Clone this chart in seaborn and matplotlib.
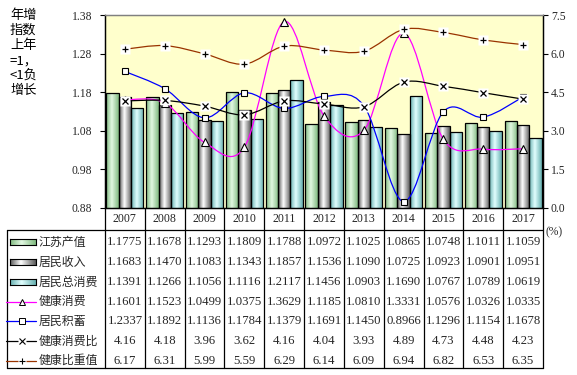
import numpy as np
import pandas as pd
import matplotlib
matplotlib.use("Agg")
import matplotlib.pyplot as plt
import seaborn as sns
from matplotlib.path import Path
from matplotlib.patches import PathPatch
from matplotlib.lines import Line2D
from matplotlib.colors import LinearSegmentedColormap
from matplotlib.transforms import blended_transform_factory

# 数据
years = ["2007", "2008", "2009", "2010", "2011", "2012", "2013", "2014", "2015", "2016", "2017"]
jiangsu_output = [1.1775, 1.1678, 1.1293, 1.1809, 1.1788, 1.0972, 1.1025, 1.0865, 1.0748, 1.1011, 1.1059]
resident_income = [1.1683, 1.1470, 1.1083, 1.1343, 1.1857, 1.1536, 1.1090, 1.0725, 1.0923, 1.0901, 1.0951]
resident_consumption = [1.1391, 1.1266, 1.1056, 1.1116, 1.2117, 1.1456, 1.0903, 1.1690, 1.0767, 1.0789, 1.0619]
health_consumption = [1.1601, 1.1523, 1.0499, 1.0375, 1.3629, 1.1185, 1.0810, 1.3331, 1.0576, 1.0326, 1.0335]
resident_savings = [1.2337, 1.1892, 1.1136, 1.1784, 1.1379, 1.1691, 1.1450, 0.8966, 1.1296, 1.1154, 1.1678]
health_ratio = [4.16, 4.18, 3.96, 3.62, 4.16, 4.04, 3.93, 4.89, 4.73, 4.48, 4.23]
health_share = [6.17, 6.31, 5.99, 5.59, 6.29, 6.14, 6.09, 6.94, 6.82, 6.53, 6.35]

bar_names = ["江苏产值", "居民收入", "居民总消费"]
line_names = ["健康消费", "居民积蓄", "健康消费比", "健康比重值"]

sns.set_theme(style="white")
plt.rcParams["font.family"] = ["Liberation Serif", "Noto Sans CJK SC", "DejaVu Sans"]
CJK = ["Noto Sans CJK SC", "DejaVu Sans"]

W, H = 577, 375
fig = plt.figure(figsize=(W / 100, H / 100), dpi=100)


def fx(x):
    return x / W


def fy(y):
    return 1 - y / H


L, R, T, B = 105, 543, 15, 208
ax = fig.add_axes([fx(L), fy(B), (R - L) / W, (B - T) / H])
ax.set_facecolor("#FFFFCC")

bars_df = pd.DataFrame({
    "year": years * 3,
    "series": [n for n in bar_names for _ in years],
    "value": jiangsu_output + resident_income + resident_consumption,
})
sns.barplot(data=bars_df, x="year", y="value", hue="series", hue_order=bar_names,
            palette=["#A8D8A8", "#B0B0B0", "#A8E0E0"], width=0.93, saturation=1,
            edgecolor="black", linewidth=0.9, legend=False, ax=ax)

# 渐变填充
cmaps = [
    LinearSegmentedColormap.from_list("g", [(0, "#80BA80"), (0.45, "#E2F8E2"), (1, "#80BA80")]),
    LinearSegmentedColormap.from_list("k", [(0, "#5A5A5A"), (0.42, "#FFFFFF"), (1, "#5A5A5A")]),
    LinearSegmentedColormap.from_list("c", [(0, "#66B0B0"), (0.45, "#E2FFFF"), (1, "#66B0B0")]),
]
grad = np.linspace(0, 1, 64)[None, :]
for cont, cm in zip(ax.containers, cmaps):
    for p in cont.patches:
        x0, w, h = p.get_x(), p.get_width(), p.get_height()
        im = ax.imshow(grad, cmap=cm, extent=[x0, x0 + w, 0.88, h], aspect="auto",
                       zorder=1.5, interpolation="bilinear")
        im.set_clip_path(p)
        p.set_facecolor("none")
        p.set_zorder(2)


def smooth_path(xs, ys):
    pts = np.column_stack([xs, ys]).astype(float)
    n = len(pts)
    verts = [pts[0]]
    codes = [Path.MOVETO]
    for i in range(n - 1):
        p0 = pts[i - 1] if i > 0 else pts[i]
        p1, p2 = pts[i], pts[i + 1]
        p3 = pts[i + 2] if i + 2 < n else pts[i + 1]
        verts += [p1 + (p2 - p0) / 6, p2 - (p3 - p1) / 6, p2]
        codes += [Path.CURVE4] * 3
    return Path(verts, codes)


xs = np.arange(len(years))
ax.add_patch(PathPatch(smooth_path(xs, health_consumption), fill=False, edgecolor="#FF00FF", lw=0.9, zorder=3))
ax.add_patch(PathPatch(smooth_path(xs, resident_savings), fill=False, edgecolor="#0000FF", lw=0.9, zorder=3))
ax.plot(xs, health_consumption, "^", ms=5.5, mfc="white", mec="black", mew=0.8, zorder=4)
ax.plot(xs, resident_savings, "s", ms=4.5, mfc="white", mec="black", mew=0.8, zorder=4)

ax.set_xlim(-0.5, len(years) - 0.5)
ax.set_ylim(0.88, 1.38)
ax.set_yticks([0.88, 0.98, 1.08, 1.18, 1.28, 1.38])
ax.set_yticklabels(["0.88", "0.98", "1.08", "1.18", "1.28", "1.38"])
ax.set_xticks([])
ax.set_xlabel("")
ax.set_ylabel("")
ax.tick_params(axis="y", direction="out", length=3.6, width=0.8, color="black",
               labelsize=8.4, pad=5.5, left=True)

ax2 = ax.twinx()
ax2.add_patch(PathPatch(smooth_path(xs, health_ratio), fill=False, edgecolor="black", lw=0.9, zorder=3))
ax2.add_patch(PathPatch(smooth_path(xs, health_share), fill=False, edgecolor="#993300", lw=0.9, zorder=3))
for vals, mk in [(health_ratio, "x"), (health_share, "+")]:
    ax2.plot(xs, vals, "s", ms=7, mfc="white", mec="none", zorder=4)
    ax2.plot(xs, vals, mk, ms=4.5, color="black", mew=0.9, zorder=5)
ax2.set_ylim(0, 7.5)
ax2.set_yticks([0, 1.5, 3.0, 4.5, 6.0, 7.5])
ax2.set_yticklabels(["0.0", "1.5", "3.0", "4.5", "6.0", "7.5"])
ax2.tick_params(axis="y", direction="out", length=3.6, width=0.8, color="black",
                labelsize=8.4, pad=2, right=True)
ax2.set_xlim(-0.5, len(years) - 0.5)

for a in (ax, ax2):
    for s in ["left", "right", "bottom"]:
        a.spines[s].set_color("black")
        a.spines[s].set_linewidth(0.9)
    a.spines["top"].set_color("#808080")
    a.spines["top"].set_linewidth(0.9)

# 左侧说明文字
fig.text(fx(10), fy(9), "年增\n指数\n上年\n=1，\n<1负\n增长", ha="left", va="top",
         fontsize=9.5, family=CJK, linespacing=1.2, color="black")
fig.text(fx(545), fy(232), "(%)", ha="left", va="center", fontsize=8.4)

# 数据表
tr = blended_transform_factory(ax.transData, fig.transFigure)
lc = dict(color="black", lw=0.9)
fig.add_artist(Line2D([fx(7), fx(R)], [fy(230), fy(230)], transform=fig.transFigure, **lc))
fig.add_artist(Line2D([fx(7), fx(R)], [fy(368), fy(368)], transform=fig.transFigure, **lc))
fig.add_artist(Line2D([fx(7), fx(7)], [fy(230), fy(368)], transform=fig.transFigure, **lc))
for b in np.arange(-0.5, len(years), 1.0):
    fig.add_artist(Line2D([b, b], [fy(B), fy(368)], transform=tr, **lc))

for i, yr in enumerate(years):
    fig.text(i, fy(219), yr, transform=tr, ha="center", va="center", fontsize=8.6)

rows = [
    (jiangsu_output, "{:.4f}"),
    (resident_income, "{:.4f}"),
    (resident_consumption, "{:.4f}"),
    (health_consumption, "{:.4f}"),
    (resident_savings, "{:.4f}"),
    (health_ratio, "{:.2f}"),
    (health_share, "{:.2f}"),
]
row_y = [242.5 + 19.7 * k for k in range(len(rows))]
for (vals, fmt), ry in zip(rows, row_y):
    for i, v in enumerate(vals):
        fig.text(i, fy(ry), fmt.format(v), transform=tr, ha="center", va="center", fontsize=9.2)

# 表格图例
labels = bar_names + line_names
for k, (lab, ry) in enumerate(zip(labels, row_y)):
    if k < 3:
        gax = fig.add_axes([fx(10), fy(ry + 3), fx(26), 6 / H])
        gax.imshow(grad, cmap=cmaps[k], aspect="auto", interpolation="bilinear")
        gax.set_xticks([])
        gax.set_yticks([])
        for s in gax.spines.values():
            s.set_visible(True)
            s.set_color("black")
            s.set_linewidth(0.8)
    else:
        col = ["#FF00FF", "#0000FF", "black", "#993300"][k - 3]
        mk = ["^", "s", "x", "+"][k - 3]
        fig.add_artist(Line2D([fx(6), fx(36)], [fy(ry), fy(ry)], transform=fig.transFigure,
                              color=col, lw=0.9))
        if mk in ("^", "s"):
            fig.add_artist(Line2D([fx(22)], [fy(ry)], transform=fig.transFigure, marker=mk,
                                  ms=4, mfc="white", mec="black", mew=0.7, ls="none"))
        else:
            fig.add_artist(Line2D([fx(22)], [fy(ry)], transform=fig.transFigure, marker="s",
                                  ms=6, mfc="white", mec="none", ls="none"))
            fig.add_artist(Line2D([fx(22)], [fy(ry)], transform=fig.transFigure, marker=mk,
                                  ms=4, color="black", mew=0.8, ls="none"))
    fig.text(fx(39), fy(ry), lab, ha="left", va="center", fontsize=8.6, family=CJK)

fig.savefig("out.png", dpi=100, facecolor="white")
